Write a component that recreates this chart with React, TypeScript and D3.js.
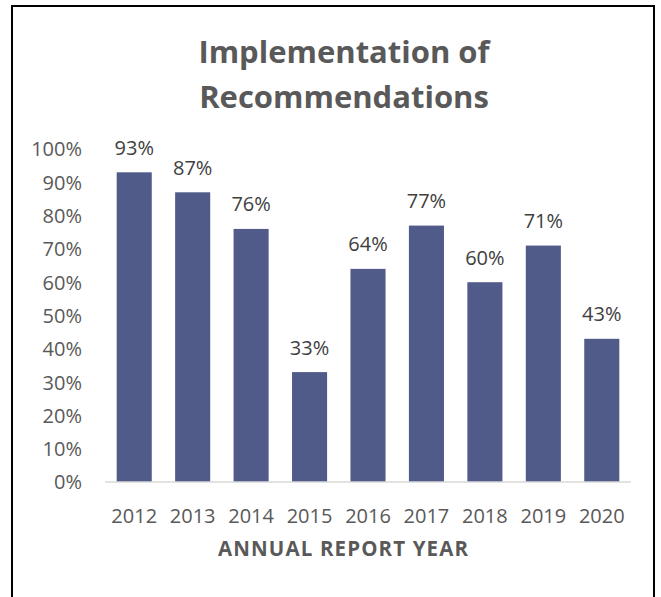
import React from "react";
import * as d3 from "d3";

const years = ["2012", "2013", "2014", "2015", "2016", "2017", "2018", "2019", "2020"];
const rates = [0.93, 0.87, 0.76, 0.33, 0.64, 0.77, 0.6, 0.71, 0.43];
const yTicks = [0, 0.1, 0.2, 0.3, 0.4, 0.5, 0.6, 0.7, 0.8, 0.9, 1.0];
const titleLines = ["Implementation of", "Recommendations"];
const xAxisTitle = "ANNUAL REPORT YEAR";

const W = 661;
const H = 597;
const FONT = "'Open Sans', sans-serif";
const TEXT = "#595959";
const BAR = "#515B89";

export default function App() {
  const x = d3.scaleBand<string>().domain(years).range([105, 631]).paddingInner(0.4).paddingOuter(0.2);
  const y = d3.scaleLinear().domain([0, 1]).range([482, 149]);
  const pct = d3.format(".0%");

  return (
    <svg
      width={W}
      height={H}
      style={{ position: "absolute", left: 0, top: 0, display: "block", background: "#fff" }}
      fontFamily={FONT}
    >
      <rect x={0} y={0} width={W} height={H} fill="#fff" />
      <rect x={12} y={6} width={642} height={H + 20} fill="none" stroke="#000" strokeWidth={2} />

      {titleLines.map((t, i) => (
        <text key={t} x={344} y={63 + i * 45} textAnchor="middle" fontSize={31} fontWeight={700} fill={TEXT}>
          {t}
        </text>
      ))}

      {yTicks.map((t) => (
        <text key={t} x={82} y={y(t)} dy="0.37em" textAnchor="end" fontSize={20} fill={TEXT}>
          {pct(t)}
        </text>
      ))}

      {years.map((yr, i) => (
        <g key={yr}>
          <rect x={x(yr)} y={y(rates[i])} width={x.bandwidth()} height={y(0) - y(rates[i])} fill={BAR} />
          <text x={(x(yr) as number) + x.bandwidth() / 2} y={y(rates[i]) - 17.5} textAnchor="middle" fontSize={20} fill="#404040">
            {pct(rates[i])}
          </text>
          <text x={(x(yr) as number) + x.bandwidth() / 2} y={523} textAnchor="middle" fontSize={20} fill={TEXT}>
            {yr}
          </text>
        </g>
      ))}

      <line x1={105} x2={631} y1={y(0)} y2={y(0)} stroke="#D9D9D9" strokeWidth={1.3} />

      <text
        x={343}
        y={556}
        textAnchor="middle"
        fontSize={20.5}
        fontWeight={700}
        fill={TEXT}
        textLength={250}
        lengthAdjust="spacing"
      >
        {xAxisTitle}
      </text>
    </svg>
  );
}
